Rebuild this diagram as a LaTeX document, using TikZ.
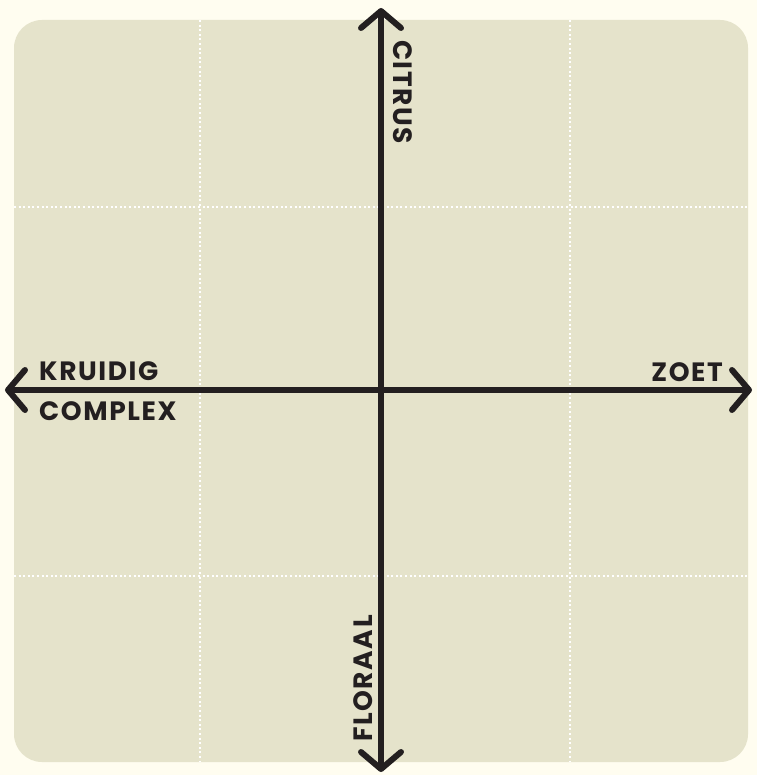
\documentclass[tikz,border=0pt]{standalone}
\usepackage{fontspec}
\setsansfont{Poppins}
\newfontfamily\axisfont[LetterSpace=6]{Poppins}
\usetikzlibrary{arrows.meta}
\definecolor{pagebg}{HTML}{FFFDF0}
\definecolor{panelbg}{HTML}{E5E3CB}
\definecolor{axisink}{HTML}{231F20}
\tikzset{
  axislbl/.style={font=\axisfont\bfseries\fontsize{26.5}{26.5}\selectfont, text=axisink, inner sep=0pt},
  axisline/.style={draw=axisink, line width=6pt, line cap=round,
    {Straight Barb[length=17pt, width=40pt, line cap=round, line join=round]}-{Straight Barb[length=17pt, width=40pt, line cap=round, line join=round]}},
  gridline/.style={draw=white, line width=2pt, dash pattern=on 2pt off 2.6pt}
}
\begin{document}
\begin{tikzpicture}[x=1pt, y=-1pt]
\useasboundingbox (0,0) rectangle (757,775);
\fill[pagebg] (0,0) rectangle (757,775);
\fill[panelbg, rounded corners=28pt] (14,20) rectangle (748,762);
% dotted grid
\foreach \gx in {200,570} \draw[gridline] (\gx,20) -- (\gx,762);
\foreach \gy in {207,576} \draw[gridline] (14,\gy) -- (748,\gy);
% axes
\coordinate (top) at (381,8);
\coordinate (bottom) at (381,772);
\coordinate (left) at (5,390);
\coordinate (right) at (752,390);
\draw[axisline] (bottom) -- (top);
\draw[axisline] (left) -- (right);
% labels
\node[axislbl, rotate=-90, anchor=base west] (citrus) at (393,40) {CITRUS};
\node[axislbl, rotate=90, anchor=base west] (floraal) at (372,742) {FLORAAL};
\node[axislbl, anchor=base west] (kruidig) at (39,380) {KRUIDIG};
\node[axislbl, anchor=base west] (complex) at (39,420) {COMPLEX};
\node[axislbl, anchor=base east] (zoet) at (723,381) {ZOET};
\end{tikzpicture}
\end{document}
